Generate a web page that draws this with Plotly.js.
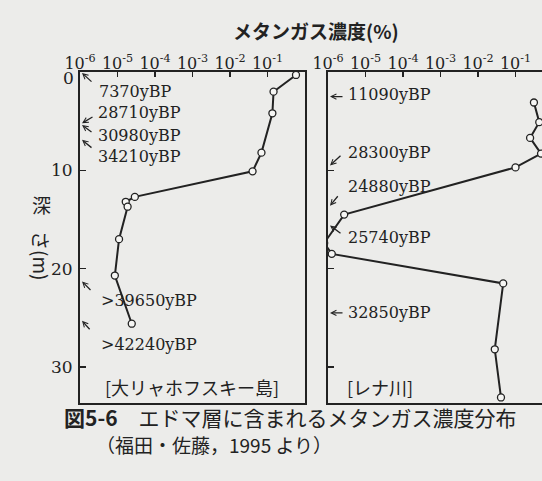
<!DOCTYPE html>
<html>
<head>
<meta charset="utf-8">
<script src="https://cdn.plot.ly/plotly-3.0.1.min.js"></script>
<style>
  html, body { margin: 0; padding: 0; background: #ececea; overflow: hidden; }
  #chart { width: 570px; height: 481px; }
</style>
</head>
<body>
<div id="chart"></div>
<script>
// 大リャホフスキー島: depth (m) and methane concentration (%)
const leftDepth = [0.3, 2.0, 4.2, 8.2, 10.1, 12.7, 13.2, 13.7, 17.0, 20.7, 25.6];
const leftConc = [0.575, 0.145, 0.135, 0.069, 0.040, 2.9e-5, 1.66e-5, 1.86e-5, 1.1e-5, 8.5e-6, 2.4e-5];

// レナ川 (the 17.4 m value is below 10^-6 and runs off the scale)
const rightDepth = [3.1, 5.1, 6.7, 8.3, 9.7, 14.5, 17.4, 18.5, 21.5, 28.2, 33.1];
const rightConc = [0.31, 0.43, 0.245, 0.48, 0.10, 2.7e-6, 7.9e-7, 1.26e-6, 0.047, 0.028, 0.041];

// radiocarbon ages and the depth they point at
const leftAges = ['7370yBP', '28710yBP', '30980yBP', '34210yBP', '&gt;39650yBP', '&gt;42240yBP'];
const leftAgeDepth = [0.1, 5.2, 5.4, 6.9, 21.3, 25.3];
const rightAges = ['11090yBP', '28300yBP', '24880yBP', '25740yBP', '32850yBP'];
const rightAgeDepth = [2.5, 9.5, 13.6, 15.6, 24.5];

const tickVals = [1e-6, 1e-5, 1e-4, 1e-3, 1e-2, 1e-1];
const tickText = ['10<sup>-6</sup>', '10<sup>-5</sup>', '10<sup>-4</sup>', '10<sup>-3</sup>', '10<sup>-2</sup>', '10<sup>-1</sup>'];
const depthTicks = [0, 10, 20, 30];
const depthText = ['', '10', '20', '30'];   // the 0 is set a little lower, below

// arrow tails [dx, dy] and label offsets [xshift, yshift], in pixels
const leftArrow = [[11, 10], [12, -7], [11, 8], [11, 9], [10, 10], [9, 10]];
const leftLabel = [[17, -19], [16, 11], [16, -10], [16, -17], [19, -19], [19, -24]];
const rightArrow = [[14, 0], [12, -11], [9, -11], [12, 9], [14, 0]];
const rightLabel = [[18, 2], [18, 13], [18, 19], [18, -12], [18, 0]];

const W = 570, H = 481;
const px = x => x / W;
const py = y => 1 - y / H;

const ink = '#222222';
const serif = 'DejaVu Serif, serif';
const jp = 'Noto Sans CJK JP, sans-serif';

const lineStyle = { color: ink, width: 2 };
const markerStyle = { symbol: 'circle', size: 7, color: '#f6f6f4', line: { color: ink, width: 1.3 } };

const traces = [
    { x: leftConc, y: leftDepth, xaxis: 'x', yaxis: 'y', mode: 'lines+markers',
      line: lineStyle, marker: markerStyle, cliponaxis: true },
    { x: rightConc, y: rightDepth, xaxis: 'x2', yaxis: 'y2', mode: 'lines+markers',
      line: lineStyle, marker: markerStyle, cliponaxis: true }
];

const yDomain = [py(403), py(72)];
const yRange = [(403 - 72) / 9.833, 0];

function xAxis(domain, anchor) {
    return {
        type: 'log', range: [-6, 0], domain: domain, anchor: anchor, side: 'top',
        showline: true, mirror: true, linecolor: ink, linewidth: 2,
        ticks: 'inside', ticklen: 5, tickwidth: 1.5, tickcolor: ink,
        tickmode: 'array', tickvals: tickVals, ticktext: tickText,
        tickfont: { family: serif, size: 16, color: ink }, ticklabelstandoff: -5,
        showgrid: false, zeroline: false, fixedrange: true
    };
}

function yAxis(anchor, labels) {
    return {
        range: yRange, domain: yDomain, anchor: anchor,
        showline: true, mirror: true, linecolor: ink, linewidth: 2,
        ticks: 'inside', ticklen: 6, tickwidth: 1.5, tickcolor: ink,
        tickmode: 'array', tickvals: labels ? depthTicks : [10, 20, 30],
        ticktext: labels ? depthText : undefined,
        showticklabels: labels, tickfont: { family: serif, size: 17, color: ink },
        ticklabelstandoff: 2, showgrid: false, zeroline: false, fixedrange: true
    };
}

const annotations = [];

function addAges(ages, depths, arrows, labels, xref, yref) {
    ages.forEach((age, i) => {
        annotations.push({
            xref: xref, yref: yref, x: -6, y: depths[i], xshift: 2,
            ax: arrows[i][0], ay: arrows[i][1], text: '', showarrow: true,
            arrowhead: 5, arrowsize: 0.8, arrowwidth: 1.3, arrowcolor: ink, standoff: 0
        });
        annotations.push({
            xref: xref, yref: yref, x: -6, y: depths[i],
            xshift: labels[i][0], yshift: labels[i][1],
            text: age, showarrow: false, xanchor: 'left', yanchor: 'middle',
            font: { family: serif, size: 16, color: ink }
        });
    });
}

addAges(leftAges, leftAgeDepth, leftArrow, leftLabel, 'x', 'y');
addAges(rightAges, rightAgeDepth, rightArrow, rightLabel, 'x2', 'y2');

// depth 0 label, nudged down under the top tick labels
annotations.push({
    xref: 'x', yref: 'y', x: -6, y: depthTicks[0], xshift: -4, yshift: -6,
    text: String(depthTicks[0]), showarrow: false, xanchor: 'right', yanchor: 'middle',
    font: { family: serif, size: 17, color: ink }
});

// titles and captions
function note(x, y, text, size, extra) {
    return Object.assign({
        xref: 'paper', yref: 'paper', x: px(x), y: py(y), text: text,
        xanchor: 'center', yanchor: 'middle', showarrow: false,
        font: { family: jp, size: size, color: ink }
    }, extra || {});
}

annotations.push(
    note(316, 30, '<b>メタンガス濃度(%)</b>', 19),
    note(42, 205, '深', 19),
    note(42, 256, 'さ(m)', 19, { textangle: 90 }),
    note(192, 387, '[大リャホフスキー島]', 18),
    note(345, 387, '[レナ川]', 18, { xanchor: 'left' }),
    note(62, 417, '<b>図5-6</b>　エドマ層に含まれるメタンガス濃度分布', 21, { xanchor: 'left' }),
    note(94, 444, '（福田・佐藤，1995 より）', 19, { xanchor: 'left' })
);

const layout = {
    width: W, height: H,
    margin: { l: 0, r: 0, t: 0, b: 0 },
    paper_bgcolor: '#ececea', plot_bgcolor: '#ececea',
    showlegend: false,
    xaxis: xAxis([px(80), px(305)], 'y'),
    yaxis: yAxis('x', true),
    xaxis2: xAxis([px(328), px(553)], 'y2'),
    yaxis2: yAxis('x2', false),
    annotations: annotations
};

Plotly.newPlot('chart', traces, layout, { staticPlot: true, displayModeBar: false });
</script>
</body>
</html>
